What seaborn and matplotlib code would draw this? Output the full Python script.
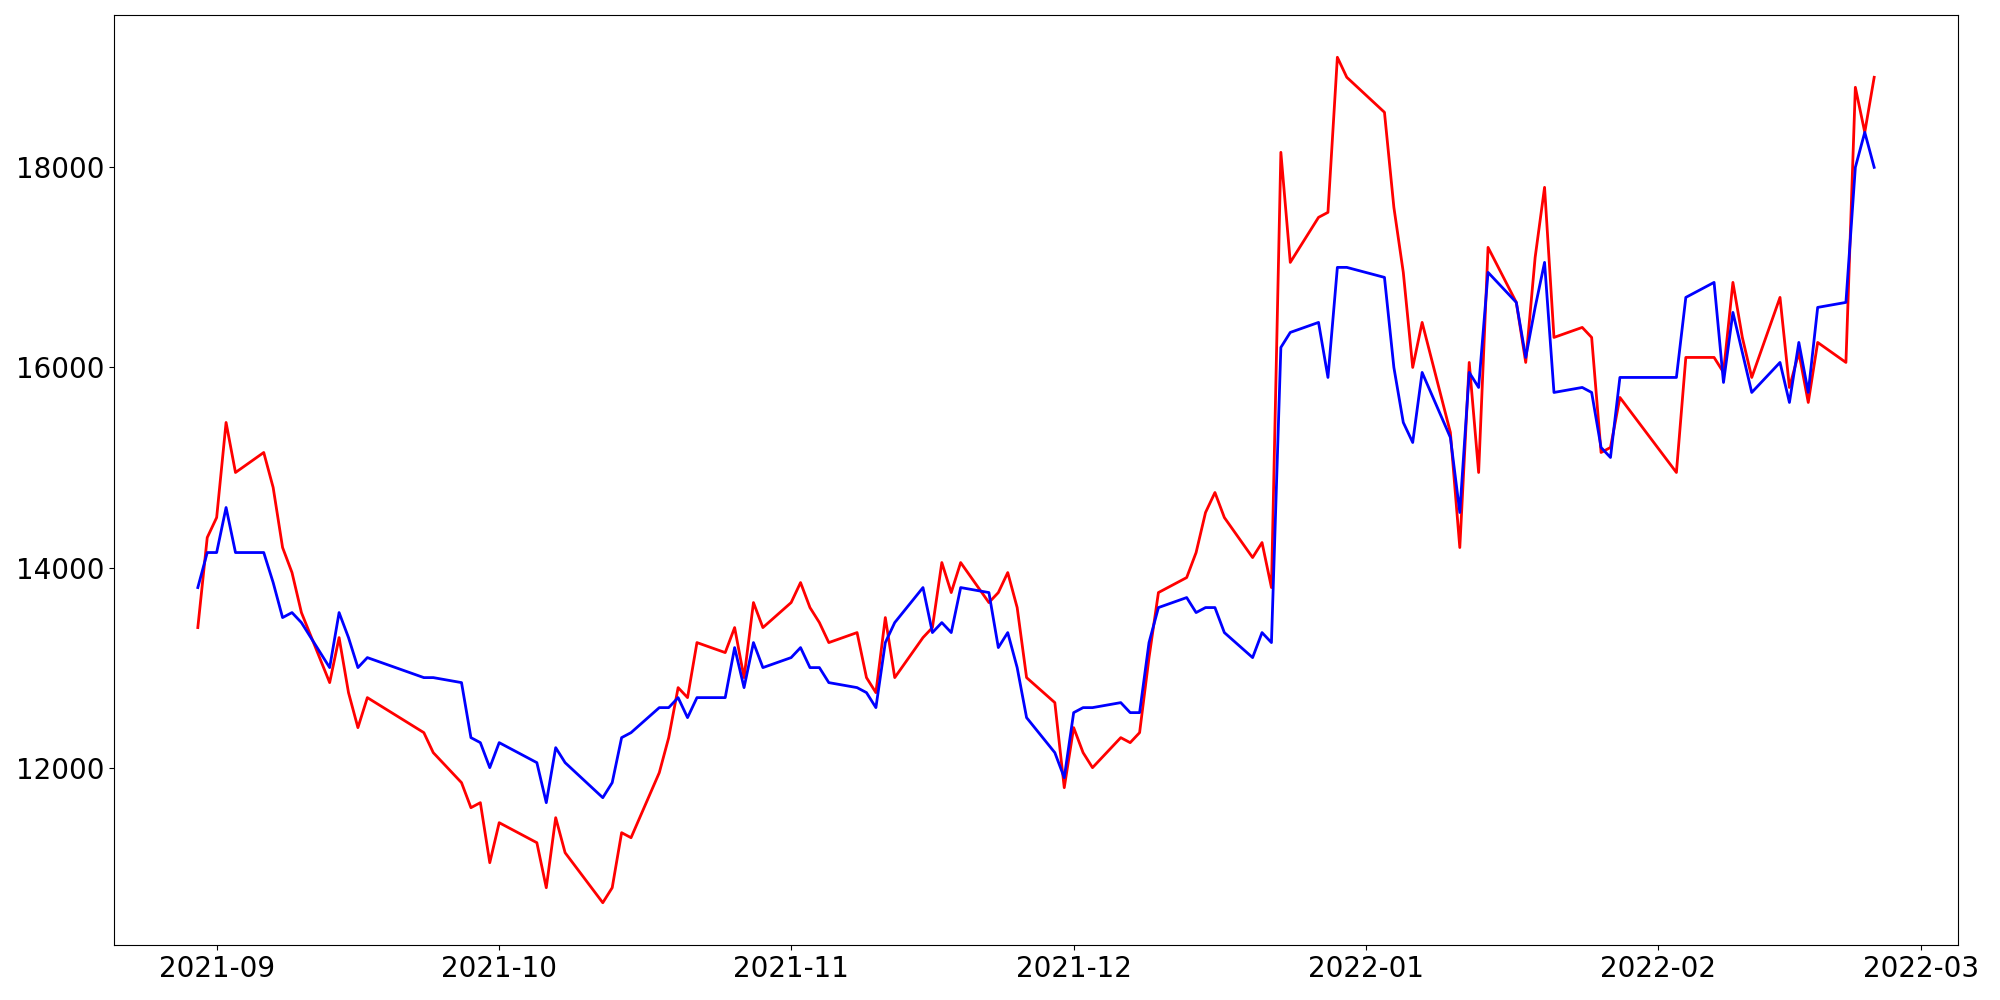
import pandas as pd
import matplotlib
matplotlib.use("Agg")
import matplotlib.pyplot as plt
import seaborn as sns

# trading days (KRX calendar, holidays skipped)
dates = [
    "2021-08-30", "2021-08-31",
    "2021-09-01", "2021-09-02", "2021-09-03", "2021-09-06", "2021-09-07", "2021-09-08",
    "2021-09-09", "2021-09-10", "2021-09-13", "2021-09-14", "2021-09-15", "2021-09-16",
    "2021-09-17", "2021-09-23", "2021-09-24", "2021-09-27", "2021-09-28", "2021-09-29",
    "2021-09-30",
    "2021-10-01", "2021-10-05", "2021-10-06", "2021-10-07", "2021-10-08", "2021-10-12",
    "2021-10-13", "2021-10-14", "2021-10-15", "2021-10-18", "2021-10-19", "2021-10-20",
    "2021-10-21", "2021-10-22", "2021-10-25", "2021-10-26", "2021-10-27", "2021-10-28",
    "2021-10-29",
    "2021-11-01", "2021-11-02", "2021-11-03", "2021-11-04", "2021-11-05", "2021-11-08",
    "2021-11-09", "2021-11-10", "2021-11-11", "2021-11-12", "2021-11-15", "2021-11-16",
    "2021-11-17", "2021-11-18", "2021-11-19", "2021-11-22", "2021-11-23", "2021-11-24",
    "2021-11-25", "2021-11-26", "2021-11-29", "2021-11-30",
    "2021-12-01", "2021-12-02", "2021-12-03", "2021-12-06", "2021-12-07", "2021-12-08",
    "2021-12-09", "2021-12-10", "2021-12-13", "2021-12-14", "2021-12-15", "2021-12-16",
    "2021-12-17", "2021-12-20", "2021-12-21", "2021-12-22", "2021-12-23", "2021-12-24",
    "2021-12-27", "2021-12-28", "2021-12-29", "2021-12-30",
    "2022-01-03", "2022-01-04", "2022-01-05", "2022-01-06", "2022-01-07", "2022-01-10",
    "2022-01-11", "2022-01-12", "2022-01-13", "2022-01-14", "2022-01-17", "2022-01-18",
    "2022-01-19", "2022-01-20", "2022-01-21", "2022-01-24", "2022-01-25", "2022-01-26",
    "2022-01-27", "2022-01-28",
    "2022-02-03", "2022-02-04", "2022-02-07", "2022-02-08", "2022-02-09", "2022-02-10",
    "2022-02-11", "2022-02-14", "2022-02-15", "2022-02-16", "2022-02-17", "2022-02-18",
    "2022-02-21", "2022-02-22", "2022-02-23", "2022-02-24",
]

red_values = [
    13400, 14300,
    14500, 15450, 14950, 15150, 14800, 14200, 13950, 13550, 12850, 13300, 12750, 12400,
    12700, 12350, 12150, 11850, 11600, 11650, 11050,
    11450, 11250, 10800, 11500, 11150, 10650, 10800, 11350, 11300, 11950, 12300, 12800,
    12700, 13250, 13150, 13400, 12900, 13650, 13400,
    13650, 13850, 13600, 13450, 13250, 13350, 12900, 12750, 13500, 12900, 13300, 13400,
    14050, 13750, 14050, 13650, 13750, 13950, 13600, 12900, 12650, 11800,
    12400, 12150, 12000, 12300, 12250, 12350, 13100, 13750, 13900, 14150, 14550, 14750,
    14500, 14100, 14250, 13800, 18150, 17050, 17500, 17550, 19100, 18900,
    18550, 17600, 16950, 16000, 16450, 15350, 14200, 16050, 14950, 17200, 16650, 16050,
    17100, 17800, 16300, 16400, 16300, 15150, 15200, 15700,
    14950, 16100, 16100, 15950, 16850, 16300, 15900, 16700, 15800, 16150, 15650, 16250,
    16050, 18800, 18350, 18900,
]

blue_values = [
    13800, 14150,
    14150, 14600, 14150, 14150, 13850, 13500, 13550, 13450, 13000, 13550, 13300, 13000,
    13100, 12900, 12900, 12850, 12300, 12250, 12000,
    12250, 12050, 11650, 12200, 12050, 11700, 11850, 12300, 12350, 12600, 12600, 12700,
    12500, 12700, 12700, 13200, 12800, 13250, 13000,
    13100, 13200, 13000, 13000, 12850, 12800, 12750, 12600, 13250, 13450, 13800, 13350,
    13450, 13350, 13800, 13750, 13200, 13350, 13000, 12500, 12150, 11900,
    12550, 12600, 12600, 12650, 12550, 12550, 13250, 13600, 13700, 13550, 13600, 13600,
    13350, 13100, 13350, 13250, 16200, 16350, 16450, 15900, 17000, 17000,
    16900, 16000, 15450, 15250, 15950, 15300, 14550, 15950, 15800, 16950, 16650, 16100,
    16600, 17050, 15750, 15800, 15750, 15200, 15100, 15900,
    15900, 16700, 16850, 15850, 16550, 16150, 15750, 16050, 15650, 16250, 15750, 16600,
    16650, 18000, 18350, 18000,
]

df = pd.DataFrame({
    "date": pd.to_datetime(dates),
    "red": red_values,
    "blue": blue_values,
})

fig, ax = plt.subplots(figsize=(20, 10), dpi=100)

sns.lineplot(data=df, x="date", y="red", color="red", linewidth=2, ax=ax)
sns.lineplot(data=df, x="date", y="blue", color="blue", linewidth=2, ax=ax)

ax.set_xlabel("")
ax.set_ylabel("")
ax.tick_params(labelsize=20)

plt.subplots_adjust(left=0.057, right=0.979, top=0.985, bottom=0.055)
plt.savefig("out.png")
